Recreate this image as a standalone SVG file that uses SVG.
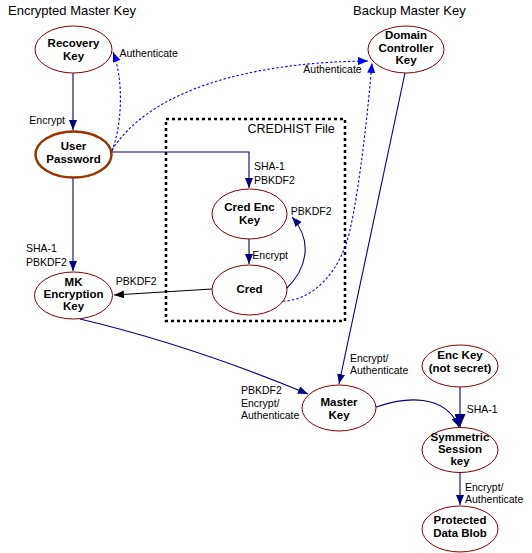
<svg xmlns="http://www.w3.org/2000/svg" width="532" height="553" viewBox="0 0 532 553">
<style>
text{font-family:"Liberation Sans",Arial,sans-serif;fill:#000}
.t{font-size:13px}
.n{font-size:11.5px;font-weight:bold;text-anchor:middle}
.l{font-size:10.5px}
.e{fill:#fff;stroke:#800000;stroke-width:1}
.c{fill:none;stroke:#000080;stroke-width:1.1}
.d{fill:none;stroke:#0000ff;stroke-width:1.1;stroke-dasharray:2.5 2}
.k{fill:none;stroke:#000;stroke-width:1.1}
</style>
<defs>
<marker id="an" markerUnits="userSpaceOnUse" markerWidth="10" markerHeight="8" refX="10" refY="4" orient="auto"><path d="M0,0L10,4L0,8z" fill="#000080"/></marker>
<marker id="anb" markerUnits="userSpaceOnUse" markerWidth="13" markerHeight="11" refX="13" refY="5.5" orient="auto"><path d="M0,0L13,5.5L0,11z" fill="#000080"/></marker>
<marker id="ab" markerUnits="userSpaceOnUse" markerWidth="10" markerHeight="8" refX="10" refY="4" orient="auto"><path d="M0,0L10,4L0,8z" fill="#0000ff"/></marker>
<marker id="ak" markerUnits="userSpaceOnUse" markerWidth="10" markerHeight="8" refX="10" refY="4" orient="auto"><path d="M0,0L10,4L0,8z" fill="#000"/></marker>
</defs>
<text class="t" x="8" y="15">Encrypted Master Key</text>
<text class="t" x="353" y="15">Backup Master Key</text>
<g id="credhist">
<rect x="166" y="119" width="179" height="202" fill="none" stroke="#000" stroke-width="2.5" stroke-dasharray="3 3"/>
<text x="247.5" y="132.5" style="font-size:12.5px">CREDHIST File</text>
</g>
<g id="connectors">
<path class="c" d="M73,73V130" marker-end="url(#an)"/>
<path class="c" d="M73,178V271" marker-end="url(#an)"/>
<path class="c" d="M112,152H249V188" marker-end="url(#an)"/>
<path class="c" d="M249,239V264" marker-end="url(#an)"/>
<path class="c" d="M286,289C306,270 314,242 292,217" marker-end="url(#an)"/>
<path class="k" d="M212,289L114,295" marker-end="url(#ak)"/>
<path class="c" d="M80,319Q190,345 308,394" marker-end="url(#an)"/>
<path class="c" d="M405,73L339,384" marker-end="url(#an)"/>
<path class="c" d="M460,387V427" marker-end="url(#anb)"/>
<path class="c" d="M376,407C405,397 445,393 459,427" marker-end="url(#an)"/>
<path class="c" d="M460,472V505" marker-end="url(#an)"/>
<path class="d" d="M112,151C122,125 124,80 113,52" marker-end="url(#ab)"/>
<path class="d" d="M112,150C150,90 250,62 368,61" marker-end="url(#ab)"/>
<path class="d" d="M283,301C310,301 340,275 350,230S368,110 372,63" marker-end="url(#ab)"/>
<text class="l" x="119.5" y="56.7">Authenticate</text>
<text class="l" x="29.3" y="124">Encrypt</text>
<text class="l" x="303.3" y="73.3">Authenticate</text>
<text class="l" x="254" y="170">SHA-1</text>
<text class="l" x="254" y="184.3">PBKDF2</text>
<text class="l" x="290.7" y="215">PBKDF2</text>
<text class="l" x="252.3" y="258.7">Encrypt</text>
<text class="l" x="115.7" y="285">PBKDF2</text>
<text class="l" x="26" y="251.7">SHA-1</text>
<text class="l" x="26" y="265.7">PBKDF2</text>
<text class="l" x="241" y="394.3">PBKDF2</text>
<text class="l" x="241" y="406.7">Encrypt/</text>
<text class="l" x="241" y="419.3">Authenticate</text>
<text class="l" x="350" y="362.3">Encrypt/</text>
<text class="l" x="350" y="374.3">Authenticate</text>
<text class="l" x="466.7" y="413.3">SHA-1</text>
<text class="l" x="465" y="491">Encrypt/</text>
<text class="l" x="465" y="503.3">Authenticate</text>
</g>
<g id="recovery-key"><ellipse class="e" cx="73.5" cy="49.5" rx="38.5" ry="23.5"/><text class="n" x="73.5" y="47.3">Recovery</text><text class="n" x="73.5" y="60">Key</text></g>
<g id="user-password"><ellipse cx="73.5" cy="154.5" rx="38" ry="23" fill="#fff" stroke="#993300" stroke-width="2.5"/><text class="n" x="73.5" y="150">User</text><text class="n" x="73.5" y="162.7">Password</text></g>
<g id="domain-controller-key"><ellipse class="e" cx="406" cy="49.5" rx="38" ry="23.5"/><text class="n" x="406" y="39.3">Domain</text><text class="n" x="406" y="51.7">Controller</text><text class="n" x="406" y="64">Key</text></g>
<g id="cred-enc-key"><ellipse class="e" cx="249.5" cy="214" rx="37.5" ry="25"/><text class="n" x="249.5" y="210.7">Cred Enc</text><text class="n" x="249.5" y="224">Key</text></g>
<g id="cred"><ellipse class="e" cx="249.5" cy="290" rx="37.5" ry="25"/><text class="n" x="249.5" y="292.7">Cred</text></g>
<g id="mk-encryption-key"><ellipse class="e" cx="73.5" cy="295.5" rx="39" ry="23.5"/><text class="n" x="73.5" y="286">MK</text><text class="n" x="73.5" y="298.3">Encryption</text><text class="n" x="73.5" y="310">Key</text></g>
<g id="master-key"><ellipse class="e" cx="339" cy="408" rx="37" ry="23"/><text class="n" x="339" y="406">Master</text><text class="n" x="339" y="419.3">Key</text></g>
<g id="enc-key"><ellipse class="e" cx="460" cy="366" rx="38" ry="21"/><text class="n" x="460" y="359.3">Enc Key</text><text class="n" x="460" y="371.7">(not secret)</text></g>
<g id="symmetric-session-key"><ellipse class="e" cx="460" cy="450" rx="38" ry="22.5"/><text class="n" x="460" y="440.7">Symmetric</text><text class="n" x="460" y="452.7">Session</text><text class="n" x="460" y="465">key</text></g>
<g id="protected-data-blob"><ellipse class="e" cx="460" cy="529" rx="38" ry="23"/><text class="n" x="460" y="524">Protected</text><text class="n" x="460" y="536.7">Data Blob</text></g>
</svg>
